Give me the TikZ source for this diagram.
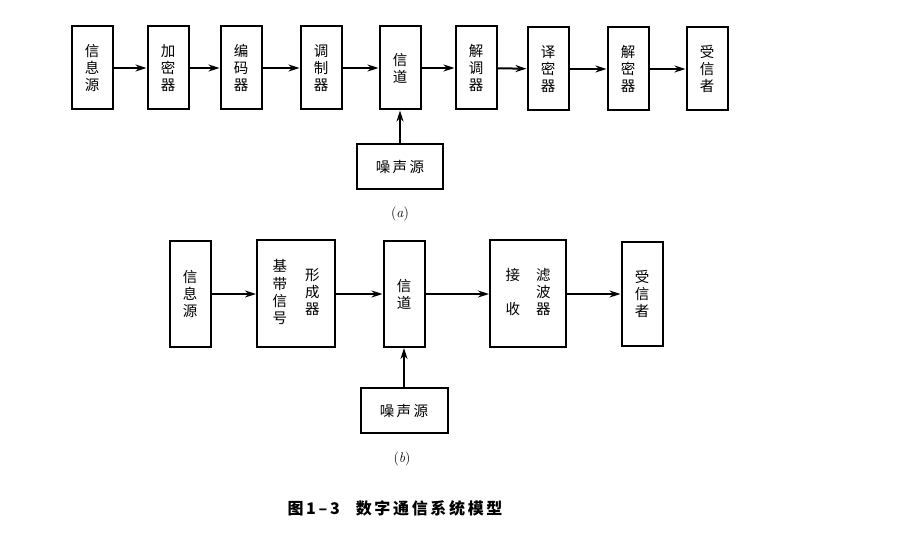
\documentclass[tikz,border=0pt]{standalone}
\usepackage{fontspec}
\newfontfamily\cjk{Noto Sans CJK SC}
\usetikzlibrary{arrows.meta}
\tikzset{
  blk/.style={draw,line width=2pt,inner sep=0pt,minimum width=41pt,
    font=\cjk\fontsize{14.5}{17}\selectfont,align=center},
  flow/.style={line width=2pt,-{Stealth[length=11pt,width=7pt]}},
}
\begin{document}
\begin{tikzpicture}[x=1pt,y=-1pt]
  \useasboundingbox (0,0) rectangle (919,534);
  % (a)
  \path
    (92,68) node[blk,minimum height=83pt] (a0){信\\息\\源}
    (168,68) node[blk,minimum height=83pt] (a1){加\\密\\器}
    (241,68) node[blk,minimum height=83pt] (a2){编\\码\\器}
    (321,68) node[blk,minimum height=83pt] (a3){调\\制\\器}
    (400,68) node[blk,minimum height=83pt] (a4){信\\道}
    (476,68) node[blk,minimum height=83pt] (a5){解\\调\\器}
    (548,69) node[blk,minimum height=83pt] (a6){译\\密\\器}
    (628,69) node[blk,minimum height=83pt] (a7){解\\密\\器}
    (707,69) node[blk,minimum height=83pt] (a8){受\\信\\者}
    (400,167) node[blk,minimum width=86pt,minimum height=45pt] (an){噪\,声\,源}
    (400,214) node[font=\fontsize{14}{16}\selectfont] (la){(\textit{a})};
  \begin{scope}[flow]
    \draw (a0) to (a1);
    \draw (a1) to (a2);
    \draw (a2) to (a3);
    \draw (a3) to (a4);
    \draw (a4) to (a5);
    \draw (a5) to (a6);
    \draw (a6) to (a7);
    \draw (a7) to (a8);
    \draw (an) to (a4);
  \end{scope}
  % (b)
  \path
    (190,294) node[blk,minimum height=106pt] (b0){信\\息\\源}
    (296,294) node[blk,minimum width=78pt,minimum height=107pt] (b1)
      {\begin{tabular}[c]{@{}c@{}}基\\带\\信\\号\end{tabular}\hspace{18pt}%
       \begin{tabular}[c]{@{}c@{}}形\\成\\器\end{tabular}}
    (404,294) node[blk,minimum height=106pt] (b2){信\\道}
    (528,294) node[blk,minimum width=76pt,minimum height=107pt] (b3)
      {\begin{tabular}[c]{@{}c@{}}接\\[16pt]收\end{tabular}\hspace{16pt}%
       \begin{tabular}[c]{@{}c@{}}滤\\波\\器\end{tabular}}
    (642,294) node[blk,minimum height=104pt] (b4){受\\信\\者}
    (404,411) node[blk,minimum width=87pt,minimum height=45pt] (bn){噪\,声\,源}
    (402,459) node[font=\fontsize{14}{16}\selectfont] (lb){(\textit{b})};
  \begin{scope}[flow]
    \draw (b0) to (b1);
    \draw (b1) to (b2);
    \draw (b2) to (b3);
    \draw (b3) to (b4);
    \draw (bn) to (b2);
  \end{scope}
  \node[font=\cjk\bfseries\fontsize{16}{18}\selectfont] (cap) at (395,508)
    {图\,1\,–\,3\quad 数\,字\,通\,信\,系\,统\,模\,型};
\end{tikzpicture}
\end{document}
